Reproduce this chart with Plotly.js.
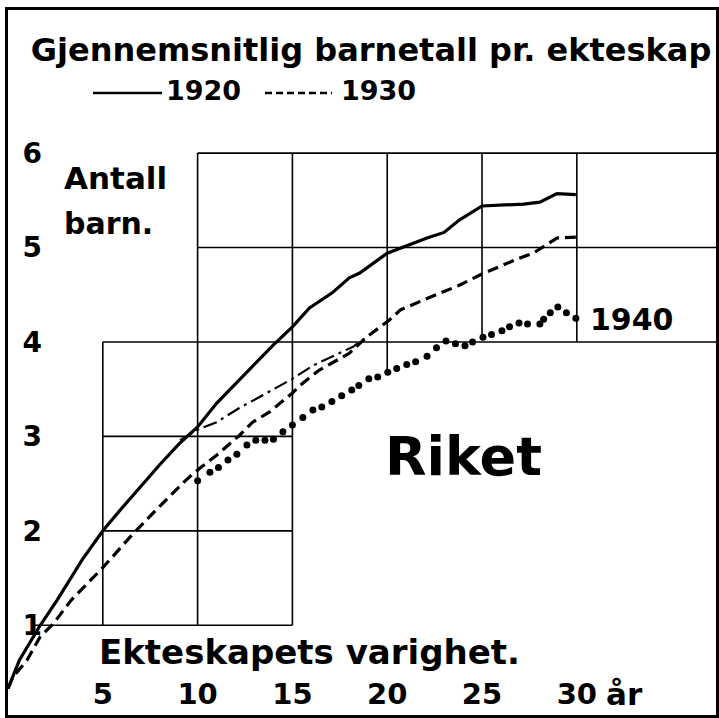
<!DOCTYPE html>
<html><head><meta charset="utf-8">
<script src="https://cdn.plot.ly/plotly-3.0.1.min.js"></script>
<style>html,body{margin:0;padding:0;background:#fff}</style>
</head><body><div id="chart" style="width:719px;height:718px"></div>
<script>
// Average number of children per marriage by duration of marriage (years)
const x1920 = [0, 0.6, 1.7, 2.6, 3.9, 5, 6, 7, 8, 9.07, 10, 11, 12.2, 13, 14, 15, 15.9, 17.1, 18, 18.55, 20, 22.1, 23, 23.8, 25, 27.2, 28.05, 28.95, 29.95];
const y1920 = [0.33, 0.63, 1.0, 1.27, 1.69, 2.0, 2.24, 2.47, 2.70, 2.93, 3.1, 3.35, 3.6, 3.77, 3.97, 4.16, 4.36, 4.52, 4.68, 4.73, 4.94, 5.10, 5.16, 5.29, 5.44, 5.46, 5.48, 5.57, 5.56];

const x1930 = [0, 0.25, 1, 1.7, 2.4, 3.35, 5, 6.6, 8, 9.4, 10.1, 11, 12.2, 12.9, 13.8, 15, 15.4, 16.4, 18, 18.9, 20.1, 20.7, 22.1, 23.8, 25, 27, 27.7, 28.95, 29.95];
const y1930 = [0.33, 0.45, 0.63, 0.88, 1.02, 1.27, 1.61, 1.97, 2.26, 2.54, 2.66, 2.8, 3.01, 3.15, 3.26, 3.46, 3.54, 3.70, 3.88, 4.05, 4.23, 4.34, 4.46, 4.60, 4.72, 4.89, 4.94, 5.10, 5.11];

// dash-dot connecting branch
const xBranch = [9.07, 10.1, 11, 12.2, 13.65, 15, 16.08, 18.2, 18.9];
const yBranch = [2.96, 3.08, 3.15, 3.3, 3.46, 3.61, 3.75, 3.95, 4.05];

const x1940 = [10.0, 10.65, 11.1, 11.6, 12.07, 12.6, 13.07, 13.55, 14.0, 14.5, 15.0, 15.55, 16.08, 16.55, 17.08, 17.6, 18.13, 18.5, 19.03, 19.5, 20.03, 20.5, 21.03, 21.5, 22.1, 22.6, 23.1, 23.6, 24.1, 24.5, 25.05, 25.5, 26.05, 26.45, 26.95, 27.4, 28.05, 28.25, 28.6, 29.0, 29.45, 29.95];
const y1940 = [2.53, 2.62, 2.67, 2.75, 2.81, 2.91, 2.96, 2.96, 2.97, 3.05, 3.12, 3.20, 3.28, 3.31, 3.37, 3.43, 3.49, 3.54, 3.61, 3.63, 3.68, 3.72, 3.76, 3.79, 3.85, 3.94, 4.01, 3.98, 3.96, 4.00, 4.05, 4.08, 4.12, 4.16, 4.20, 4.19, 4.19, 4.24, 4.31, 4.37, 4.31, 4.25];

const xTickVals = [5, 10, 15, 20, 25, 30];
const xTickText = ['5', '10', '15', '20', '25', '30'];
const yTickVals = [1, 2, 3, 4, 5, 6];
const yTickText = ['1', '2', '3', '4', '5', '6'];

// staircase grid: horizontal [y, x0, x1], vertical [x, y0, y1]
const XMAX = 37.34;
const gridH = [[6, 10, XMAX], [5, 10, XMAX], [4, 5, XMAX], [3, 5, 15], [2, 5, 15], [1, 1.25, 15]];
const gridV = [[5, 1, 4], [10, 1, 6], [15, 1, 6], [20, 3.68, 6], [25, 4.05, 6], [30, 4.0, 6]];

const FONT = 'DejaVu Sans, Verdana, sans-serif';

const shapes = [];
gridH.forEach(g => shapes.push({type: 'line', xref: 'x', yref: 'y', x0: g[1], x1: g[2], y0: g[0], y1: g[0], line: {color: '#000', width: 1.6}, layer: 'below'}));
gridV.forEach(g => shapes.push({type: 'line', xref: 'x', yref: 'y', x0: g[0], x1: g[0], y0: g[1], y1: g[2], line: {color: '#000', width: 1.6}, layer: 'below'}));
// legend keys
shapes.push({type: 'line', xref: 'paper', yref: 'paper', x0: 0.120, x1: 0.2175, y0: 0.8823, y1: 0.8823, line: {color: '#000', width: 2.5}});
shapes.push({type: 'line', xref: 'paper', yref: 'paper', x0: 0.363, x1: 0.4576, y0: 0.8823, y1: 0.8823, line: {color: '#000', width: 2.5, dash: '7px,4px'}});

const traces = [
  {x: x1920, y: y1920, mode: 'lines', line: {color: '#000', width: 3.2}, name: '1920'},
  {x: x1930, y: y1930, mode: 'lines', line: {color: '#000', width: 3.2, dash: '11px,6px'}, name: '1930'},
  {x: xBranch, y: yBranch, mode: 'lines', line: {color: '#000', width: 2.2, dash: '14px,5px,3px,5px'}, name: 'branch'},
  {x: x1940, y: y1940, mode: 'markers', marker: {color: '#000', size: 7}, name: '1940'}
];

const ann = (text, x, y, size, xanchor) => ({text, x, y, xref: 'paper', yref: 'paper', xanchor: xanchor || 'left', yanchor: 'middle', showarrow: false, font: {family: FONT, size, color: '#000', weight: 'bold'}});

const layout = {
  width: 719, height: 718,
  margin: {l: 8, r: 3, t: 10, b: 3},
  paper_bgcolor: '#fff', plot_bgcolor: '#fff',
  showlegend: false,
  title: {text: 'Gjennemsnitlig barnetall pr. ekteskap', x: 0.516, xanchor: 'center', y: 0.931, yanchor: 'middle', font: {family: FONT, size: 32, color: '#000', weight: 'bold'}},
  xaxis: {range: [0, XMAX], showgrid: false, zeroline: false, showline: true, mirror: true, linewidth: 3, linecolor: '#000',
    tickvals: xTickVals, ticktext: xTickText, ticks: '', ticklabelposition: 'inside', ticklabelstandoff: 8,
    tickfont: {family: FONT, size: 29, color: '#000', weight: 'bold'}},
  yaxis: {range: [0.05, 7.515], showgrid: false, zeroline: false, showline: true, mirror: true, linewidth: 3, linecolor: '#000',
    tickvals: yTickVals, ticktext: yTickText, ticks: '', ticklabelposition: 'inside', ticklabelstandoff: 17,
    tickfont: {family: FONT, size: 28, color: '#000', weight: 'bold'}},
  shapes: shapes,
  annotations: [
    ann('1920', 0.2768, 0.8855, 27, 'center'),
    ann('1930', 0.5226, 0.8855, 27, 'center'),
    ann('Antall', 0.0765, 0.7617, 31),
    ann('barn.', 0.0765, 0.6965, 30),
    ann('1940', 0.8192, 0.5617, 30),
    ann('Riket', 0.5300, 0.3665, 54),
    ann('Ekteskapets varighet.', 0.126, 0.0894, 34),
    ann('år', 0.842, 0.0300, 31)
  ]
};

Plotly.newPlot('chart', traces, layout, {displayModeBar: false, staticPlot: true});
</script></body></html>
